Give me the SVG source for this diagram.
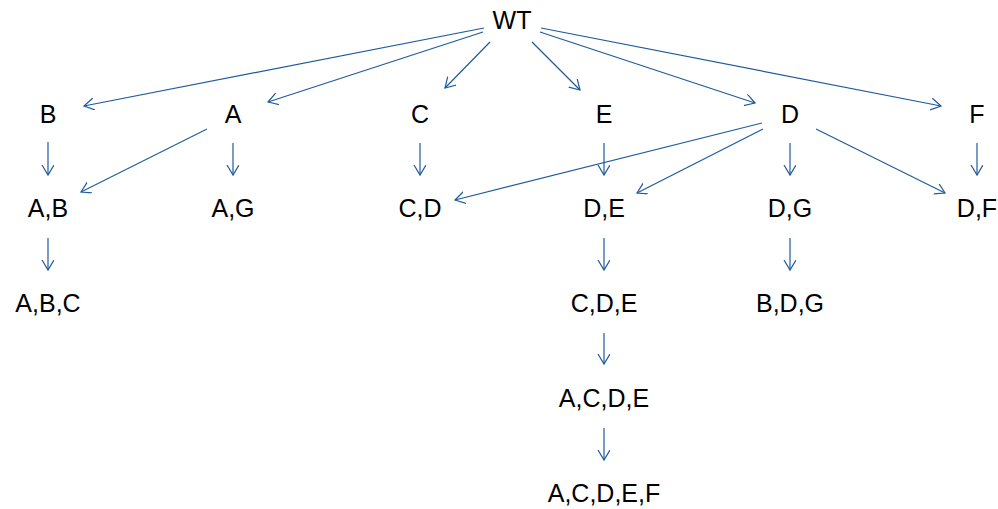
<svg xmlns="http://www.w3.org/2000/svg" width="998" height="509" viewBox="0 0 998 509">
<defs>
<marker id="arr" markerUnits="userSpaceOnUse" markerWidth="14" markerHeight="14" refX="10" refY="6" orient="auto">
<path d="M0,0 L10,6 L0,12" fill="none" stroke="#1f5b9c" stroke-width="1.2"/>
</marker>
<style>
text{font-family:"Liberation Sans",Arial,sans-serif;font-size:25px;fill:#000;text-anchor:middle}
.e line{stroke:#1f5b9c;stroke-width:1.2;marker-end:url(#arr)}
</style>
</defs>
<rect width="998" height="509" fill="#fff"/>
<g class="e" id="edges">
<line x1="484" y1="28" x2="84" y2="106"/>
<line x1="483" y1="32" x2="268" y2="102"/>
<line x1="490" y1="42" x2="445" y2="88"/>
<line x1="532" y1="42" x2="580" y2="90"/>
<line x1="540" y1="32" x2="755" y2="103"/>
<line x1="541" y1="28" x2="941" y2="106"/>
<line x1="48" y1="142" x2="48" y2="175"/>
<line x1="207" y1="129" x2="81" y2="192"/>
<line x1="233" y1="143" x2="233" y2="175"/>
<line x1="420" y1="143" x2="420" y2="175"/>
<line x1="604" y1="143" x2="604" y2="175"/>
<line x1="762" y1="123" x2="455" y2="200"/>
<line x1="763" y1="129" x2="637" y2="193"/>
<line x1="790" y1="143" x2="790" y2="175"/>
<line x1="816" y1="129" x2="945" y2="193"/>
<line x1="977" y1="143" x2="977" y2="175"/>
<line x1="48" y1="238" x2="48" y2="270"/>
<line x1="604" y1="238" x2="604" y2="270"/>
<line x1="790" y1="238" x2="790" y2="270"/>
<line x1="604" y1="333" x2="604" y2="364"/>
<line x1="604" y1="428" x2="604" y2="460"/>
</g>
<g id="n-WT"><text x="512" y="29">WT</text></g>
<g id="n-B"><text x="48" y="123">B</text></g>
<g id="n-A"><text x="233" y="123">A</text></g>
<g id="n-C"><text x="420" y="123">C</text></g>
<g id="n-E"><text x="604" y="123">E</text></g>
<g id="n-D"><text x="790" y="123">D</text></g>
<g id="n-F"><text x="977" y="123">F</text></g>
<g id="n-AB"><text x="48" y="217">A,B</text></g>
<g id="n-AG"><text x="233" y="217">A,G</text></g>
<g id="n-CD"><text x="420" y="217">C,D</text></g>
<g id="n-DE"><text x="604" y="217">D,E</text></g>
<g id="n-DG"><text x="790" y="217">D,G</text></g>
<g id="n-DF"><text x="977" y="217">D,F</text></g>
<g id="n-ABC"><text x="48" y="312">A,B,C</text></g>
<g id="n-CDE"><text x="604" y="312">C,D,E</text></g>
<g id="n-BDG"><text x="790" y="312">B,D,G</text></g>
<g id="n-ACDE"><text x="604" y="407">A,C,D,E</text></g>
<g id="n-ACDEF"><text x="604" y="502">A,C,D,E,F</text></g>
</svg>
